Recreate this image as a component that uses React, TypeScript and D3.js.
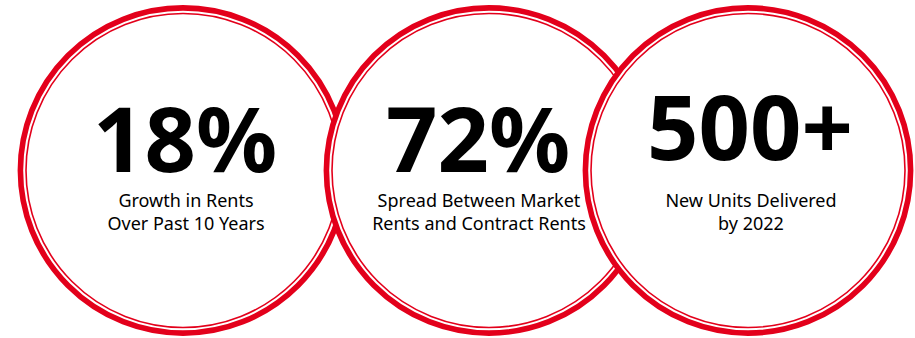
import React from "react";
import * as d3 from "d3";

const stats = ["18%", "72%", "500+"];
const captionLine1 = ["Growth in Rents", "Spread Between Market", "New Units Delivered"];
const captionLine2 = ["Over Past 10 Years", "Rents and Contract Rents", "by 2022"];

// layout (not data)
const W = 915;
const H = 338;
const centersX = [183, 489, 748];
const textCenterX = [185, 478, 750];
const statBaseline = [172, 172, 160];
const cy = 170.5;
const RED = "#e3001b";

export default function App() {
  const idx = d3.range(stats.length);
  return (
    <svg
      width={W}
      height={H}
      style={{ position: "absolute", left: 0, top: 0, background: "#fff" }}
      fontFamily="'Source Sans Pro', 'Noto Sans', Lato, sans-serif"
    >
      {idx.map((i) => (
        <g key={"c" + i}>
          <circle cx={centersX[i]} cy={cy} r={162.6} fill="#fff" stroke={RED} strokeWidth={5.6} />
          <circle cx={centersX[i]} cy={cy} r={157} fill="none" stroke={RED} strokeWidth={1.6} />
        </g>
      ))}
      {idx.map((i) => (
        <g key={"t" + i} textAnchor="middle" fill="#000">
          <text x={textCenterX[i]} y={statBaseline[i]} fontSize={90} fontWeight={700}>
            {stats[i]}
          </text>
          <text x={textCenterX[i] + 1} y={207} fontSize={18}>
            {captionLine1[i]}
          </text>
          <text x={textCenterX[i] + 1} y={230} fontSize={18}>
            {captionLine2[i]}
          </text>
        </g>
      ))}
    </svg>
  );
}
